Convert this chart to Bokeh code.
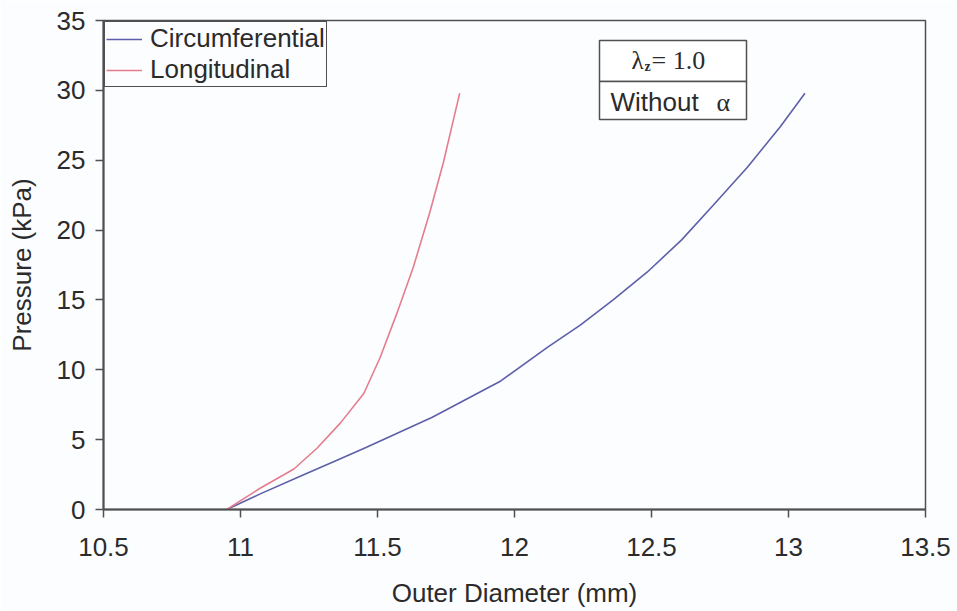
from bokeh.plotting import figure
from bokeh.models import Range1d, FixedTicker, BoxAnnotation, Label, Legend, LegendItem
from bokeh.embed import file_html
from bokeh.resources import INLINE

# ---- data ----
circ_d = [10.95, 11.07, 11.22, 11.35, 11.46, 11.70, 11.95, 12.12, 12.24, 12.36, 12.485,
          12.61, 12.726, 12.85, 12.97, 13.06]
circ_p = [0.0, 1.1, 2.4, 3.5, 4.45, 6.6, 9.2, 11.6, 13.2, 15.0, 17.0,
          19.3, 21.8, 24.5, 27.4, 29.8]

long_d = [10.95, 11.07, 11.195, 11.28, 11.365, 11.45, 11.51, 11.57, 11.63, 11.69, 11.74, 11.80]
long_p = [0.0, 1.5, 2.9, 4.4, 6.2, 8.3, 10.9, 14.0, 17.3, 21.2, 24.8, 29.8]

x_ticks = [10.5, 11, 11.5, 12, 12.5, 13, 13.5]
x_tick_labels = ["10.5", "11", "11.5", "12", "12.5", "13", "13.5"]
y_ticks = [0, 5, 10, 15, 20, 25, 30, 35]

series_names = ["Circumferential", "Longitudinal"]
series_colors = ["#5d5fa8", "#e57d8c"]

FONT = "Liberation Sans"
SERIF = "Liberation Serif"
TXT = "#2b2b2b"
AX = "#505050"
BG = "#fcfdff"

p = figure(width=957, height=611, output_backend="svg", toolbar_location=None,
           x_range=Range1d(10.5, 13.5), y_range=Range1d(0, 35),
           min_border_left=103, min_border_right=32, min_border_top=20, min_border_bottom=102,
           background_fill_color=BG, border_fill_color=BG)
p.grid.visible = False
p.outline_line_color = AX
p.outline_line_width = 1.5

r1 = p.line(circ_d, circ_p, line_color=series_colors[0], line_width=1.6)
r2 = p.line(long_d, long_p, line_color=series_colors[1], line_width=1.6)

# axes
p.xaxis.ticker = FixedTicker(ticks=x_ticks)
p.xaxis.major_label_overrides = {t: l for t, l in zip(x_ticks, x_tick_labels)}
p.yaxis.ticker = FixedTicker(ticks=y_ticks)
for ax in (p.xaxis[0], p.yaxis[0]):
    ax.axis_line_color = AX
    ax.axis_line_width = 2
    ax.major_tick_line_color = AX
    ax.major_tick_line_width = 1.5
    ax.major_tick_out = 8
    ax.major_tick_in = 0
    ax.minor_tick_out = 0
    ax.minor_tick_in = 0
    ax.major_label_text_font = FONT
    ax.major_label_text_font_size = "26px"
    ax.major_label_text_color = TXT
    ax.axis_label_text_font = FONT
    ax.axis_label_text_font_size = "26px"
    ax.axis_label_text_font_style = "normal"
    ax.axis_label_text_color = TXT
p.xaxis.axis_label = "Outer Diameter (mm)"
p.yaxis.axis_label = "Pressure (kPa)"
p.xaxis.major_label_standoff = 20
p.xaxis.axis_label_standoff = 19
p.yaxis.major_label_standoff = 10
p.yaxis.axis_label_standoff = 17

# legend
legend = Legend(items=[LegendItem(label=series_names[0], renderers=[r1]),
                       LegendItem(label=series_names[1], renderers=[r2])],
                location="top_left", margin=1, padding=1, spacing=0,
                label_text_font=FONT, label_text_font_size="26px", label_text_color=TXT,
                label_height=26, glyph_height=26, glyph_width=36, label_standoff=8,
                border_line_color=AX, border_line_width=1.5, border_line_alpha=1.0,
                background_fill_color=BG, background_fill_alpha=1.0)
p.add_layout(legend)

# annotation box (lambda_z / without alpha)
def px2x(px):
    return 10.5 + (px - 103) / 274.0

def px2y(py):
    return (509 - py) / 13.971

for top_px, bot_px in ((40, 81), (81, 119)):
    p.add_layout(BoxAnnotation(left=px2x(599), right=px2x(746), top=px2y(top_px), bottom=px2y(bot_px),
                               fill_color="white", fill_alpha=1.0,
                               line_color=AX, line_width=1.5, line_alpha=1.0))

p.add_layout(Label(x=px2x(631), y=px2y(60), text="λ", text_font=SERIF, text_font_size="25px",
                   text_color=TXT, text_baseline="alphabetic"))
p.add_layout(Label(x=px2x(644), y=px2y(66), text="z", text_font=SERIF, text_font_size="14px",
                   text_color=TXT, text_baseline="alphabetic", text_font_style="bold"))
p.add_layout(Label(x=px2x(651), y=px2y(60), text="= 1.0", text_font=SERIF, text_font_size="26px",
                   text_color=TXT, text_baseline="alphabetic"))
p.add_layout(Label(x=px2x(610), y=px2y(102), text="Without", text_font=FONT, text_font_size="26px",
                   text_color=TXT, text_baseline="alphabetic"))
p.add_layout(Label(x=px2x(716), y=px2y(102), text="α", text_font=SERIF, text_font_size="26px",
                   text_color=TXT, text_baseline="alphabetic"))

open("out.html", "w").write(file_html(p, INLINE))
